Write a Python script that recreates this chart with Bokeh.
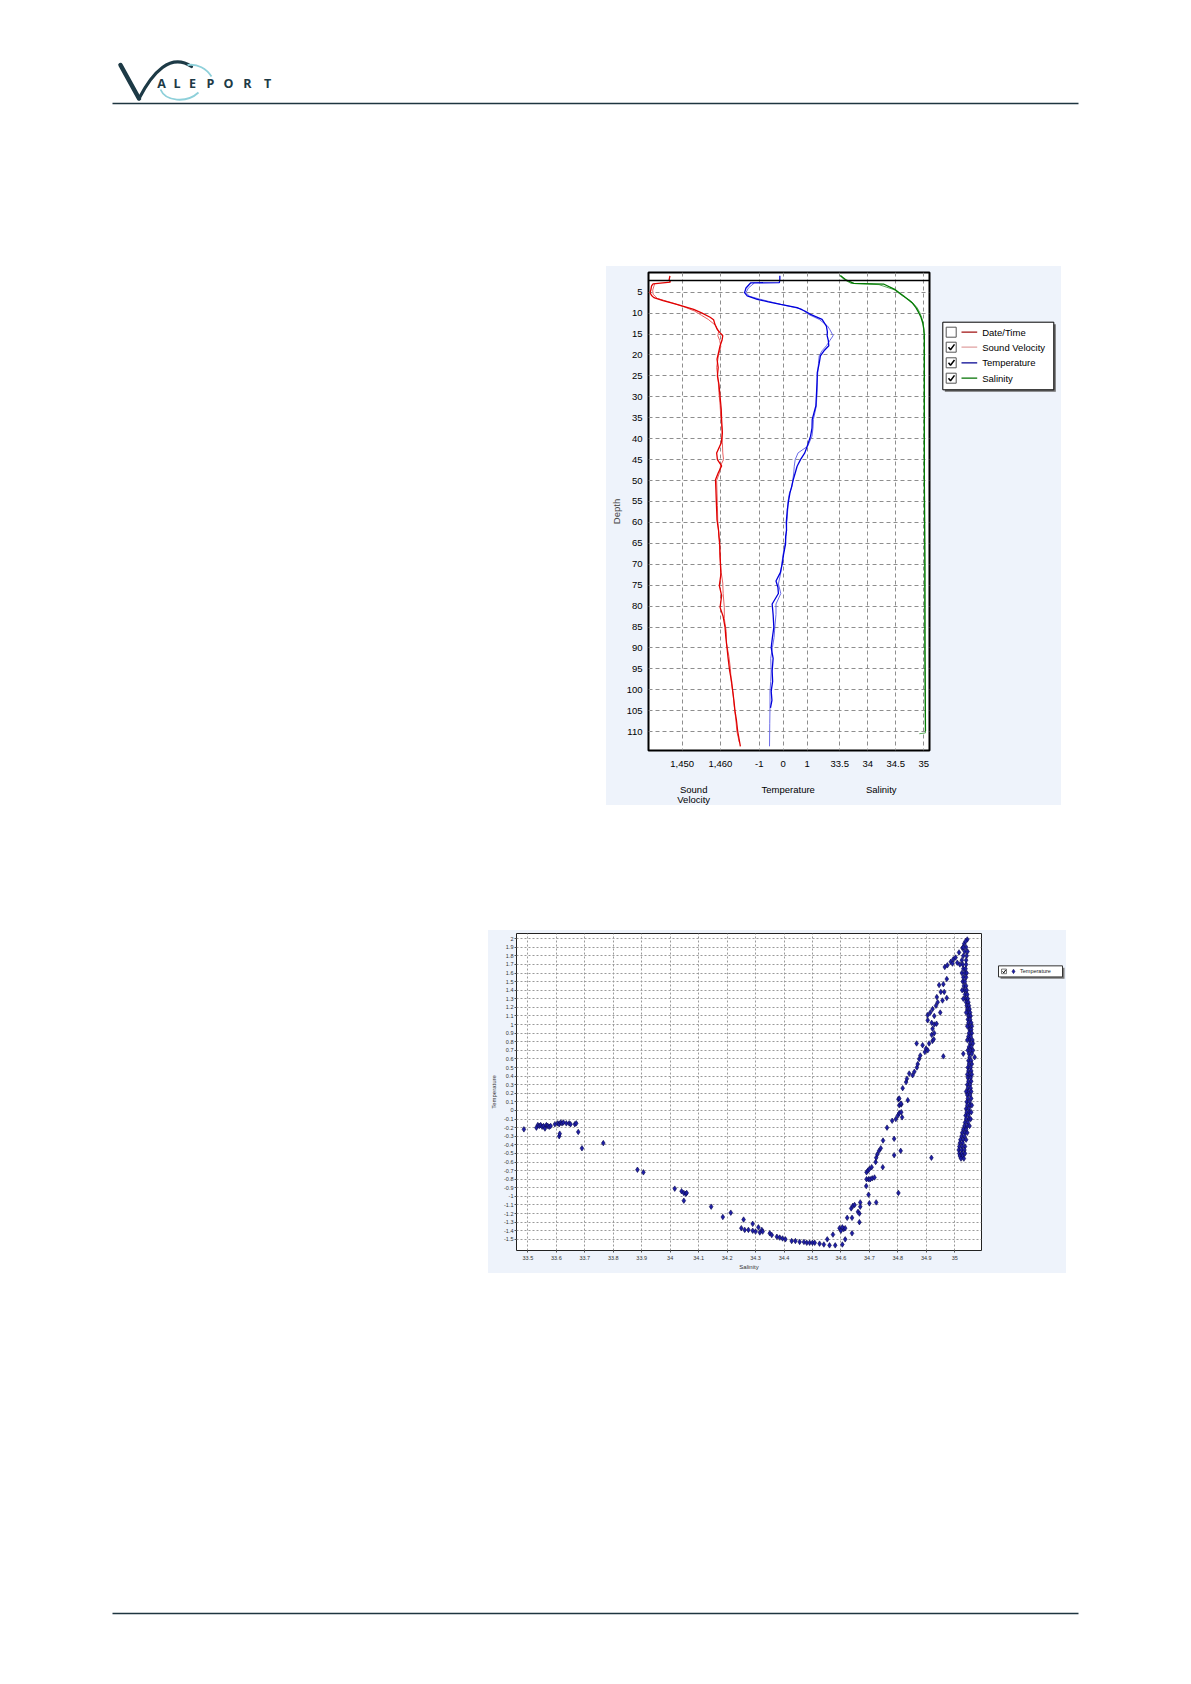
from bokeh.plotting import figure
from bokeh.models import Range1d, FixedTicker, Span, NumeralTickFormatter, Spacer
from bokeh.layouts import column, row
from bokeh.embed import file_html
from bokeh.resources import INLINE
from bokeh.core.properties import value

# ---------------- data: CTD profile (depth vs value) ----------------
sv_dn_depth = [1.1, 2.0, 2.6, 3.0, 3.5, 4.5, 5.1, 5.8, 6.3, 7.0, 7.9, 8.5, 9.1, 10.0, 11.0, 11.6, 12.8, 13.8, 14.6, 15.4,
               16.5, 17.8, 19.0, 21.0, 23.0, 25.0, 27.0, 29.0, 31.0, 33.0, 35.5, 38.6, 41.0, 43.4, 45.0, 46.5, 48.2, 49.8, 52.0, 54.6,
               57.0, 59.4, 61.9, 63.4, 65.1, 67.5, 69.9, 72.5, 75.1, 77.5, 80.3, 82.5, 85.1, 87.5, 89.9, 92.5, 95.5, 98.0, 100.3, 102.5,
               105.1, 107.5, 109.9, 113.5]
sv_dn = [1446.8, 1446.6, 1446.9, 1442.4, 1442.0, 1441.8, 1441.6, 1442.0, 1442.6, 1445.0, 1448.6, 1450.8, 1453.0, 1455.2, 1457.3, 1458.2, 1458.6, 1459.1, 1459.8, 1460.6,
         1460.4, 1459.9, 1459.6, 1459.1, 1459.4, 1459.2, 1459.6, 1459.8, 1460.0, 1460.2, 1460.3, 1460.5, 1460.2, 1459.0, 1459.2, 1460.3, 1459.4, 1458.7, 1458.8, 1458.9,
         1459.0, 1459.1, 1459.5, 1459.6, 1459.8, 1459.9, 1460.0, 1460.1, 1459.7, 1460.3, 1459.9, 1460.7, 1461.2, 1461.4, 1461.7, 1462.0, 1462.4, 1462.9, 1463.2, 1463.5,
         1463.8, 1464.2, 1464.5, 1465.2]
sv_up_depth = [3.0, 4.5, 5.5, 6.5, 7.5, 8.5, 9.5, 10.5, 11.5, 13.0, 14.5, 15.4, 16.5, 18.0, 20.0, 23.0, 26.0, 29.0, 32.0, 35.0,
               38.0, 41.0, 43.4, 45.0, 46.5, 48.0, 50.0, 53.0, 56.0, 60.0, 64.0, 68.0, 72.0, 74.5, 77.0, 80.3, 83.0, 86.0, 89.0, 92.0,
               95.0, 98.0, 101.0, 104.0, 107.0, 110.0, 112.5]
sv_up = [1442.8, 1442.3, 1442.4, 1443.5, 1447.2, 1450.5, 1453.2, 1455.0, 1456.8, 1458.8, 1459.5, 1459.3, 1459.8, 1460.1, 1459.5, 1459.0, 1459.4, 1459.6, 1459.9, 1460.1,
         1460.4, 1460.5, 1460.6, 1460.8, 1460.0, 1459.8, 1459.0, 1459.1, 1459.2, 1459.3, 1459.7, 1459.8, 1460.2, 1460.6, 1460.7, 1461.0, 1461.0, 1461.5, 1461.6, 1462.2,
         1462.6, 1462.8, 1463.3, 1463.6, 1464.0, 1464.3, 1464.9]

t_dn_depth = [1.1, 2.0, 2.7, 2.8, 4.0, 5.1, 5.9, 6.7, 7.3, 7.9, 8.7, 9.5, 10.3, 11.5, 13.1, 14.5, 15.4, 16.5, 17.8, 19.0,
              20.2, 22.0, 24.2, 26.5, 29.0, 32.2, 35.4, 37.5, 39.4, 41.8, 43.4, 45.0, 46.6, 48.2, 49.8, 51.5, 53.0, 55.0, 57.0, 60.0,
              61.9, 63.4, 65.1, 67.5, 69.9, 72.0, 74.0, 75.5, 77.0, 79.5, 82.0, 85.1, 87.5, 89.9, 92.5, 95.5, 98.0, 100.3, 102.5, 104.3]
t_dn = [-0.14, -0.14, -0.16, -1.36, -1.55, -1.61, -1.5, -1.08, -0.62, -0.11, 0.58, 0.9, 1.14, 1.62, 1.8, 1.84, 1.83, 1.88, 1.9, 1.7,
        1.55, 1.5, 1.42, 1.41, 1.39, 1.36, 1.21, 1.2, 1.14, 1.0, 0.9, 0.72, 0.58, 0.5, 0.42, 0.35, 0.28, 0.22, 0.17, 0.13,
        0.14, 0.1, 0.1, 0.02, -0.04, -0.12, -0.3, -0.22, -0.2, -0.46, -0.42, -0.39, -0.45, -0.5, -0.42, -0.46, -0.44, -0.5, -0.47, -0.53]
t_up_depth = [2.8, 4.0, 5.1, 6.0, 6.7, 7.5, 8.3, 9.0, 10.3, 11.5, 13.1, 14.0, 15.4, 16.5, 17.8, 19.0, 20.2, 22.0, 24.2, 26.5,
              29.0, 32.2, 35.4, 37.5, 39.4, 41.8, 43.4, 45.0, 46.6, 48.2, 49.8, 51.5, 53.0, 55.0, 57.0, 60.0, 63.4, 65.1, 67.5, 69.9,
              72.0, 74.7, 77.0, 79.5, 82.0, 85.1, 87.5, 89.9, 92.5, 95.5, 98.0, 100.3, 104.3, 108.0, 113.5]
t_up = [-1.2, -1.45, -1.55, -1.4, -0.95, -0.4, 0.2, 0.75, 1.05, 1.5, 1.85, 1.95, 2.08, 1.95, 1.8, 1.62, 1.5, 1.47, 1.44, 1.42,
        1.41, 1.38, 1.26, 1.24, 1.2, 1.02, 0.62, 0.5, 0.46, 0.44, 0.4, 0.36, 0.26, 0.2, 0.19, 0.15, 0.12, 0.08, 0.0, -0.06,
        -0.1, -0.2, -0.1, -0.3, -0.3, -0.35, -0.38, -0.45, -0.52, -0.5, -0.52, -0.55, -0.55, -0.56, -0.57]

s_dn_depth = [1.0, 2.0, 2.9, 3.1, 4.4, 5.9, 7.5, 8.7, 9.9, 11.0, 12.3, 13.8, 15.4, 30.0, 50.0, 70.0, 90.0, 109.9]
s_dn = [33.51, 33.6, 33.75, 34.29, 34.49, 34.64, 34.79, 34.86, 34.91, 34.95, 34.98, 35.0, 35.01, 35.01, 35.01, 35.02, 35.02, 35.03]
s_up_depth = [1.0, 2.0, 2.9, 3.2, 4.4, 5.9, 7.0, 7.5, 8.7, 9.9, 11.0, 12.3, 15.4, 40.0, 80.0, 110.3, 110.5]
s_up = [33.5, 33.58, 33.7, 34.2, 34.47, 34.62, 34.76, 34.8, 34.88, 34.93, 34.96, 34.99, 35.01, 35.01, 35.02, 35.03, 34.92]

depth_ticks = [5, 10, 15, 20, 25, 30, 35, 40, 45, 50, 55, 60, 65, 70, 75, 80, 85, 90, 95, 100, 105, 110]
sv_ticks = [1450, 1460]
sv_tick_labels = ["1,450", "1,460"]
temp_ticks = [-1, 0, 1]
temp_tick_labels = ["-1", "0", "1"]
sal_ticks = [33.5, 34, 34.5, 35]
sal_tick_labels = ["33.5", "34", "34.5", "35"]
axis_titles = ["Sound", "Velocity", "Temperature", "Salinity"]
legend1_names = ["Date/Time", "Sound Velocity", "Temperature", "Salinity"]
legend1_checked = [False, True, True, True]
legend1_colors = ["#a01010", "#e0a0a0", "#000090", "#007000"]

# ---------------- data: T-S scatter ----------------
ts_left_sal = [33.486, 33.53, 33.535, 33.54, 33.545, 33.55, 33.555, 33.56, 33.565, 33.57, 33.575, 33.58, 33.595, 33.605, 33.61,
               33.615, 33.62, 33.625, 33.635, 33.645, 33.65, 33.665, 33.67, 33.61, 33.612, 33.677, 33.69, 33.765, 33.885, 33.906]
ts_left_temp = [-0.22, -0.2, -0.17, -0.18, -0.17, -0.19, -0.18, -0.21, -0.17, -0.18, -0.19, -0.18, -0.16, -0.15, -0.16,
                -0.14, -0.15, -0.14, -0.15, -0.15, -0.16, -0.16, -0.15, -0.3, -0.27, -0.25, -0.44, -0.38, -0.69, -0.72]
ts_low_sal = [34.016, 34.04, 34.048, 34.055, 34.048, 34.058, 34.144, 34.185, 34.213, 34.258,
              34.25, 34.262, 34.275, 34.29, 34.3, 34.29, 34.31, 34.315, 34.322, 34.325,
              34.35, 34.357, 34.375, 34.385, 34.395, 34.405, 34.427, 34.44, 34.455, 34.47, 34.48, 34.49, 34.5, 34.508,
              34.525, 34.54, 34.552, 34.56, 34.572, 34.58, 34.605, 34.615]
ts_low_temp = [-0.91, -0.94, -0.96, -0.97, -1.05, -0.96, -1.12, -1.24, -1.19, -1.27,
               -1.37, -1.39, -1.39, -1.4, -1.41, -1.32, -1.36, -1.42, -1.39, -1.41,
               -1.43, -1.45, -1.47, -1.48, -1.49, -1.5, -1.52, -1.52, -1.53, -1.53, -1.54, -1.54, -1.54, -1.54,
               -1.55, -1.56, -1.5, -1.57, -1.445, -1.57, -1.56, -1.5]
ts_rise_sal = [34.595, 34.6, 34.61, 34.615, 34.605, 34.639, 34.622, 34.639,
               34.636, 34.642, 34.648, 34.66, 34.665, 34.665, 34.668, 34.668,
               34.697, 34.7, 34.724, 34.802, 34.689, 34.69, 34.697, 34.703, 34.71, 34.718,
               34.69, 34.695, 34.7, 34.708, 34.722, 34.724, 34.728, 34.734, 34.74, 34.748, 34.747,
               34.762, 34.787, 34.787, 34.81, 34.78, 34.793, 34.8, 34.805, 34.812, 34.815,
               34.805, 34.812, 34.802, 34.835, 34.918]
ts_rise_temp = [-1.37, -1.4, -1.38, -1.37, -1.36, -1.43, -1.25, -1.25,
                -1.14, -1.11, -1.1, -1.18, -1.2, -1.3, -1.07, -1.12,
                -0.98, -1.08, -1.07, -0.96, -0.88, -0.8, -0.8, -0.8, -0.79, -0.78,
                -0.72, -0.7, -0.68, -0.66, -0.6, -0.55, -0.51, -0.47, -0.44, -0.35, -0.66,
                -0.2, -0.33, -0.52, -0.47, -0.12, -0.1, -0.06, -0.03, -0.02, -0.08,
                0.06, 0.07, 0.13, 0.12, -0.55]
ts_upper_sal = [34.811, 34.805, 34.817, 34.829, 34.832, 34.84, 34.852, 34.858, 34.867, 34.87,
                34.875, 34.879, 34.895, 34.866, 34.887, 34.899, 34.905, 34.91, 34.922, 34.926,
                34.96, 34.919, 34.928, 34.922, 34.905, 34.919, 34.928, 34.936, 34.922, 34.914,
                34.905, 34.928, 34.949, 34.934, 34.94, 34.937, 34.957, 34.972, 34.951, 34.963,
                34.945, 34.96, 34.972, 34.965, 34.974, 34.986, 34.995, 35.003, 34.992, 35.009,
                35.015, 35.027, 35.033, 35.044, 35.038]
ts_upper_temp = [0.08, 0.14, 0.26, 0.33, 0.37, 0.43, 0.41, 0.45, 0.5, 0.54,
                 0.6, 0.64, 0.68, 0.78, 0.76, 0.72, 0.7, 0.78, 0.81, 0.83,
                 0.63, 0.88, 0.9, 0.95, 1.05, 1.02, 1.0, 1.01, 1.18, 1.14,
                 1.11, 1.1, 1.14, 1.22, 1.26, 1.32, 1.28, 1.31, 1.38, 1.38,
                 1.46, 1.47, 1.53, 1.67, 1.69, 1.73, 1.76, 1.78, 1.71, 1.72,
                 1.84, 1.89, 1.94, 1.99, 1.97]
ts_band_temp = [1.90, 1.90, 1.85, 1.85, 1.80, 1.80, 1.75, 1.75, 1.70, 1.70, 1.70, 1.65, 1.65, 1.60, 1.60, 1.60, 1.55, 1.55,
                1.50, 1.50, 1.45, 1.45, 1.40, 1.40, 1.40, 1.35, 1.35, 1.30, 1.30, 1.30, 1.26, 1.26, 1.22, 1.22, 1.18, 1.18,
                1.14, 1.14, 1.14, 1.10, 1.10, 1.06, 1.06, 1.02, 1.02, 0.98, 0.98, 0.98, 0.94, 0.94, 0.90, 0.90, 0.86, 0.86,
                0.82, 0.82, 0.82, 0.78, 0.78, 0.74, 0.74, 0.70, 0.70, 0.70, 0.66, 0.66, 0.66, 0.62, 0.62, 0.58, 0.58,
                0.54, 0.54, 0.50, 0.50, 0.46, 0.46, 0.42, 0.42, 0.42, 0.38, 0.38, 0.34, 0.34, 0.30, 0.30, 0.26, 0.26,
                0.22, 0.22, 0.22, 0.18, 0.18, 0.14, 0.14, 0.10, 0.10, 0.06, 0.06, 0.06, 0.02, 0.02,
                -0.02, -0.02, -0.02, -0.06, -0.06, -0.10, -0.10, -0.10, -0.14, -0.14, -0.18, -0.18, -0.18, -0.22, -0.22,
                -0.26, -0.26, -0.26, -0.30, -0.30, -0.34, -0.34, -0.34, -0.38, -0.38, -0.42, -0.42, -0.42,
                -0.46, -0.46, -0.46, -0.50, -0.50, -0.50, -0.53, -0.53, -0.56, -0.56]
ts_band_sal = [35.040, 35.030, 35.035, 35.045, 35.030, 35.042, 35.025, 35.040, 35.028, 35.040, 35.018, 35.030, 35.038, 35.025, 35.035, 35.042, 35.030, 35.040,
               35.028, 35.036, 35.032, 35.040, 35.034, 35.042, 35.026, 35.036, 35.044, 35.038, 35.046, 35.030, 35.040, 35.048, 35.042, 35.050, 35.044, 35.052,
               35.046, 35.054, 35.040, 35.048, 35.056, 35.046, 35.054, 35.048, 35.058, 35.050, 35.060, 35.044, 35.052, 35.058, 35.050, 35.060, 35.048, 35.056,
               35.052, 35.062, 35.044, 35.054, 35.064, 35.050, 35.058, 35.046, 35.056, 35.064, 35.030, 35.050, 35.060, 35.052, 35.070, 35.048, 35.058,
               35.050, 35.060, 35.046, 35.056, 35.048, 35.058, 35.050, 35.060, 35.044, 35.046, 35.056, 35.048, 35.058, 35.044, 35.054, 35.046, 35.056,
               35.048, 35.058, 35.040, 35.044, 35.054, 35.046, 35.058, 35.042, 35.052, 35.044, 35.054, 35.060, 35.040, 35.050,
               35.042, 35.052, 35.058, 35.038, 35.048, 35.040, 35.050, 35.056, 35.036, 35.046, 35.034, 35.044, 35.052, 35.030, 35.040,
               35.026, 35.036, 35.044, 35.024, 35.034, 35.020, 35.030, 35.040, 35.018, 35.028, 35.016, 35.026, 35.036,
               35.014, 35.024, 35.034, 35.016, 35.026, 35.036, 35.018, 35.028, 35.022, 35.032]

ts_sal_ticks = [round(33.5 + 0.1 * i, 1) for i in range(16)]
ts_temp_ticks = [round(-1.5 + 0.1 * i, 1) for i in range(36)]

# ---------------- styling ----------------
PANEL = "#EEF3FB"
FONT = "Liberation Sans"
DARK = "#1d3a46"
GRID = "#8e8e8e"

SV_LO, SV_HI = 1441.2, 1514.6
T_LO, T_HI = -5.6125, 6.096
S_LO, S_HI = 30.084, 35.102


def bare(w, h, xr, yr, bg):
    f = figure(width=w, height=h, x_range=Range1d(*xr), y_range=Range1d(*yr),
               x_axis_location=None, y_axis_location=None, toolbar_location=None,
               output_backend="svg", min_border=0, outline_line_color=None,
               background_fill_color=bg, border_fill_color=bg)
    f.grid.visible = False
    return f


# ---------------- header with logo (page pixel coordinates) ----------------
hdr = bare(1183, 110, (0, 1183), (110, 0), "white")
hdr.line([120, 138.5], [64.5, 98], line_width=4.5, line_color=DARK, line_cap="round")
hdr.bezier(x0=138.5, y0=98, x1=191, y1=66, cx0=152, cy0=72, cx1=170, cy1=52,
           line_width=3.2, line_color=DARK, line_cap="round")
hdr.bezier(x0=187, y0=64.5, x1=211, y1=76, cx0=197, cy0=63, cx1=206, cy1=68,
           line_width=1.8, line_color="#8ed0da")
hdr.bezier(x0=160, y0=89, x1=198, y1=92, cx0=165, cy0=101, cx1=186, cy1=103,
           line_width=1.8, line_color="#8ed0da")
hdr.text(x=[161, 176.5, 192, 210, 228, 247, 267], y=[82.5] * 7, text=list("ALEPORT"),
         text_font=value("Open Sans"), text_font_style="bold", text_font_size="12.5px",
         text_align="center", text_baseline="middle", text_color=DARK)
hdr.line([112, 1078], [103, 103], line_width=1.5, line_color="#1e3540")

# ---------------- top chart: profiles ----------------
sv_range = Range1d(SV_LO, SV_HI)
p1 = figure(width=329, height=506, x_range=sv_range, y_range=Range1d(114.5, 0.3),
            toolbar_location=None, output_backend="svg",
            min_border_left=42, min_border_right=6, min_border_top=6, min_border_bottom=22,
            background_fill_color="white", border_fill_color=PANEL,
            outline_line_color="black", outline_line_width=2)
p1.extra_x_ranges = {"temp": Range1d(T_LO, T_HI), "sal": Range1d(S_LO, S_HI)}


def to_sv(v, lo, hi):
    return round(SV_LO + (v - lo) / (hi - lo) * (SV_HI - SV_LO), 6)


xt, overrides = [], {}
for v, lab in zip(sv_ticks, sv_tick_labels):
    t = round(float(v), 6); xt.append(t); overrides[t] = lab
for v, lab in zip(temp_ticks, temp_tick_labels):
    t = to_sv(v, T_LO, T_HI); xt.append(t); overrides[t] = lab
for v, lab in zip(sal_ticks, sal_tick_labels):
    t = to_sv(v, S_LO, S_HI); xt.append(t); overrides[t] = lab

xa = p1.xaxis[0]
xa.ticker = FixedTicker(ticks=xt)
xa.major_label_overrides = overrides
xa.axis_line_color = None
xa.major_tick_line_color = None
xa.minor_tick_line_color = None
xa.major_label_standoff = 4
xa.major_label_text_font = FONT
xa.major_label_text_font_size = "9.5px"
xa.major_label_text_color = "black"

ya = p1.yaxis[0]
ya.ticker = FixedTicker(ticks=depth_ticks)
ya.axis_line_color = None
ya.major_tick_line_color = None
ya.minor_tick_line_color = None
ya.major_tick_out = 0
ya.major_tick_in = 0
ya.minor_tick_out = 0
ya.major_label_standoff = 6
ya.major_label_text_font = FONT
ya.major_label_text_font_size = "9.5px"
ya.major_label_text_color = "black"
ya.axis_label = "Depth"
ya.axis_label_text_font = FONT
ya.axis_label_text_font_size = "9.5px"
ya.axis_label_text_font_style = "normal"
ya.axis_label_standoff = 2

for g in (p1.xgrid[0], p1.ygrid[0]):
    g.grid_line_color = GRID
    g.grid_line_dash = "4 3"
    g.grid_line_width = 1

p1.add_layout(Span(location=2.2, dimension="width", line_color="black", line_width=1.5))

p1.line(sv_up, sv_up_depth, line_color="#e86060", line_width=1)
p1.line(sv_dn, sv_dn_depth, line_color="#e00000", line_width=1.3)
p1.line(t_up, t_up_depth, x_range_name="temp", line_color="#6a6ae8", line_width=1)
p1.line(t_dn, t_dn_depth, x_range_name="temp", line_color="#0000dc", line_width=1.3)
p1.line(s_up, s_up_depth, x_range_name="sal", line_color="#5aa85a", line_width=1)
p1.line(s_dn, s_dn_depth, x_range_name="sal", line_color="#007a00", line_width=1.3)

# axis titles strip below the top chart: shares the chart's x scale, y in page pixels
ttl = figure(width=329, height=33, x_range=sv_range, y_range=Range1d(805, 772),
             x_axis_location=None, y_axis_location=None, toolbar_location=None,
             output_backend="svg", min_border_left=42, min_border_right=6,
             min_border_top=0, min_border_bottom=0, outline_line_color=None,
             background_fill_color=PANEL, border_fill_color=PANEL)
ttl.grid.visible = False
title_x = [1453.0, 1453.0, 1477.7, 1502.0]   # sound velocity column / temperature / salinity
ttl.text(x=title_x, y=[788.5, 799.0, 788.5, 788.5], text=axis_titles,
         text_font=value(FONT), text_font_size="9.5px", text_align="center",
         text_baseline="middle", text_color="black")

# legend panel for top chart
leg1 = bare(126, 539, (0, 126), (539, 0), PANEL)
leg1.quad(left=9.3, right=120.3, top=57.7, bottom=125.3, fill_color="#6e6e6e", line_color=None)
leg1.quad(left=7.3, right=118.3, top=55.7, bottom=123.3, fill_color="white", line_color="black", line_width=1)
ys = [65.7, 80.7, 96.3, 111.7]
leg1.quad(left=[10.7] * 4, right=[20.7] * 4, top=[y - 5 for y in ys], bottom=[y + 5 for y in ys],
          fill_color="white", line_color="#555555", line_width=1)
cx = [[13, 15, 19] for y, c in zip(ys, legend1_checked) if c]
cy = [[y, y + 2.5, y - 2.8] for y, c in zip(ys, legend1_checked) if c]
leg1.multi_line(cx, cy, line_color="black", line_width=1.5)
leg1.segment(x0=[26] * 4, x1=[41.7] * 4, y0=ys, y1=ys, line_color=legend1_colors, line_width=1.3)
leg1.text(x=[46.7] * 4, y=ys, text=legend1_names, text_font=value(FONT), text_font_size="9.5px",
          text_baseline="middle", text_color="black")

# ---------------- bottom chart: T-S diagram ----------------
p2 = figure(width=502, height=343, x_range=Range1d(33.46, 35.094), y_range=Range1d(-1.63, 2.06),
            toolbar_location=None, output_backend="svg",
            min_border_left=26, min_border_right=9, min_border_top=3, min_border_bottom=23,
            background_fill_color="white", border_fill_color=PANEL,
            outline_line_color="#222222", outline_line_width=1)
bx = p2.xaxis[0]
bx.ticker = FixedTicker(ticks=ts_sal_ticks)
bx.formatter = NumeralTickFormatter(format="0.[0]")
bx.axis_label = "Salinity"
by = p2.yaxis[0]
by.ticker = FixedTicker(ticks=ts_temp_ticks)
by.formatter = NumeralTickFormatter(format="0.[0]")
by.axis_label = "Temperature"
for a in (bx, by):
    a.axis_line_color = None
    a.major_tick_line_color = "#555555"
    a.major_tick_out = 2
    a.major_tick_in = 0
    a.minor_tick_line_color = None
    a.major_label_text_font = FONT
    a.major_label_text_font_size = "5.5px"
    a.major_label_text_color = "#333333"
    a.axis_label_text_font = FONT
    a.axis_label_text_font_size = "6px"
    a.axis_label_text_font_style = "normal"
    a.axis_label_text_color = "#333333"
bx.major_label_standoff = 3
bx.axis_label_standoff = 1
by.major_label_standoff = 1
by.axis_label_standoff = 4
for g in (p2.xgrid[0], p2.ygrid[0]):
    g.grid_line_color = "#9a9a9a"
    g.grid_line_dash = "2 2"
    g.grid_line_width = 1

all_sal = ts_left_sal + ts_low_sal + ts_rise_sal + ts_upper_sal + ts_band_sal
all_temp = ts_left_temp + ts_low_temp + ts_rise_temp + ts_upper_temp + ts_band_temp
p2.scatter(all_sal, all_temp, marker="diamond", size=5.5, fill_color="#1f1fa8",
           line_color="#06064a", line_width=0.6)

leg2 = bare(76, 343, (0, 76), (343, 0), PANEL)
leg2.quad(left=10, right=74, top=37, bottom=49, fill_color="#7a7a7a", line_color=None)
leg2.quad(left=8, right=72, top=35, bottom=47, fill_color="white", line_color="#333333", line_width=1)
leg2.quad(left=11, right=16, top=38.5, bottom=43.5, fill_color="white", line_color="#555555", line_width=0.8)
leg2.multi_line([[12, 13.3, 15.2]], [[41, 42.6, 39.4]], line_color="black", line_width=1)
leg2.scatter([23], [41], marker="diamond", size=4.5, fill_color="#1f1fa8", line_color="#06064a", line_width=0.5)
leg2.text(x=[29.5], y=[41], text=["Temperature"], text_font=value(FONT), text_font_size="5.5px",
          text_baseline="middle", text_color="#222222")

# ---------------- footer line ----------------
ftr = bare(1183, 20, (0, 1183), (1623, 1603), "white")
ftr.line([112, 1078], [1613, 1613], line_width=1.5, line_color="#1e3540")

panel1 = row(column(p1, ttl), leg1, styles={"background-color": PANEL})
panel2 = row(p2, leg2, styles={"background-color": PANEL})

layout = column(
    hdr,
    Spacer(width=10, height=156),
    row(Spacer(width=606, height=539), panel1),
    Spacer(width=10, height=125),
    row(Spacer(width=488, height=343), panel2),
    Spacer(width=10, height=330),
    ftr,
)

open("out.html", "w").write(file_html(layout, INLINE))
